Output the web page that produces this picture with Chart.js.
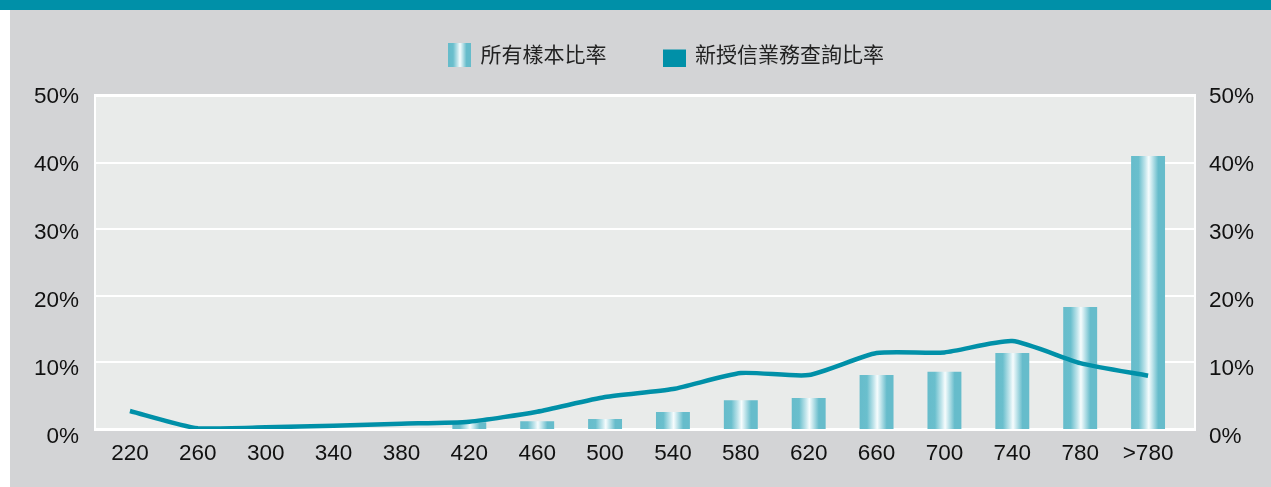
<!DOCTYPE html>
<html>
<head>
<meta charset="utf-8">
<script src="https://cdn.jsdelivr.net/npm/chart.js@4"></script>
<style>
  html, body { margin: 0; padding: 0; background: #ffffff; }
  #band { position: absolute; left: 0; top: 0; width: 1271px; height: 10px; background: #0090a8; }
  #panel { position: absolute; left: 10px; top: 10px; width: 1261px; height: 477px; background: #d3d4d6; }
  #wrap { position: absolute; left: 0; top: 0; width: 1271px; height: 487px; }
</style>
</head>
<body>
<div id="band"></div>
<div id="panel"></div>
<div id="wrap"><canvas id="chart"></canvas></div>
<script>
const categories = ["220", "260", "300", "340", "380", "420", "460", "500", "540", "580", "620", "660", "700", "740", "780", ">780"];
const sampleShare = [0, 0, 0, 0, 0, 1.0, 1.15, 1.5, 2.55, 4.3, 4.65, 8.1, 8.6, 11.4, 18.3, 41.0];
const inquiryShare = [2.7, 0.1, 0.25, 0.5, 0.8, 1.1, 2.6, 4.8, 6.0, 8.4, 8.1, 11.4, 11.5, 13.2, 9.9, 8.0];
const yTicks = [0, 10, 20, 30, 40, 50];
const seriesNames = ["所有樣本比率", "新授信業務查詢比率"];

const TEAL = "#0090a8";
const BAR_STOPS = [
  [0, "#66bccb"], [0.22, "#6abfcd"], [0.42, "#c4e6ec"],
  [0.52, "#f6fcfd"], [0.62, "#c4e6ec"], [0.8, "#66bccb"], [1, "#66bccb"]
];
const TICK_FONT = { family: "'Liberation Sans', Arial, sans-serif", size: 22.5 };
const EXTRA_RIGHT = 12; // plot panel runs a little past the last category

function barGradient(ctx, x0, x1) {
  const g = ctx.createLinearGradient(x0, 0, x1, 0);
  BAR_STOPS.forEach(s => g.addColorStop(s[0], s[1]));
  return g;
}

// legend markers
function makeMarker(kind) {
  const c = document.createElement("canvas");
  c.width = 23; c.height = 24;
  const cx = c.getContext("2d");
  if (kind === "bar") {
    cx.fillStyle = barGradient(cx, 0, 23);
    cx.fillRect(0, 0, 23, 24);
  } else {
    cx.fillStyle = TEAL;
    cx.fillRect(0, 7, 23, 17);
  }
  return c;
}
const barMarker = makeMarker("bar");
const lineMarker = makeMarker("line");

const BAR_PCT = 0.5;

// plot background, white grid and frame
const plotBg = {
  id: "plotBg",
  beforeDatasetsDraw(chart) {
    const { ctx, chartArea: a } = chart;
    const ys = chart.scales.y;
    const right = a.right + EXTRA_RIGHT;
    ctx.save();
    ctx.fillStyle = "#e9ebea";
    ctx.fillRect(a.left, a.top, right - a.left, a.bottom - a.top);
    ctx.strokeStyle = "#ffffff";
    ctx.lineWidth = 2;
    yTicks.forEach(v => {
      const y = Math.round(ys.getPixelForValue(v));
      ctx.beginPath();
      ctx.moveTo(a.left, y);
      ctx.lineTo(right, y);
      ctx.stroke();
    });
    ctx.strokeRect(a.left - 1, a.top - 1, right - a.left + 2, a.bottom - a.top + 2);
    ctx.restore();
  }
};

// legend sizing / placement
const legendBox = {
  id: "legendBox",
  beforeInit(chart) {
    const fit = chart.legend.fit;
    chart.legend.fit = function () {
      fit.bind(chart.legend)();
      this.height = 96;
    };
  },
  afterLayout(chart) {
    const lg = chart.legend;
    lg.left += 31;
    lg.right += 31;
    lg.top = -13;
  }
};

// label axes are spaced a touch wider than the grid, as in the source
const LABEL_MIN = 1.176, LABEL_MAX = 50.147;

new Chart(document.getElementById("chart"), {
  data: {
    labels: categories,
    datasets: [
      {
        type: "line",
        label: seriesNames[1],
        data: inquiryShare,
        borderColor: TEAL,
        backgroundColor: TEAL,
        borderWidth: 4.5,
        pointRadius: 0,
        tension: 0.2,
        order: 0,
        yAxisID: "y"
      },
      {
        type: "bar",
        label: seriesNames[0],
        data: sampleShare,
        categoryPercentage: 1,
        barPercentage: BAR_PCT,
        order: 1,
        yAxisID: "y",
        backgroundColor: (c) => {
          const chart = c.chart;
          const xs = chart.scales.x;
          if (!xs || !chart.chartArea || c.dataIndex === undefined) return "#66bccb";
          const cx = xs.getPixelForValue(c.dataIndex);
          const w = (xs.width / categories.length) * BAR_PCT;
          return barGradient(chart.ctx, cx - w / 2, cx + w / 2);
        }
      }
    ]
  },
  options: {
    responsive: true,
    maintainAspectRatio: false,
    animation: false,
    layout: { padding: 0 },
    plugins: {
      tooltip: { enabled: false },
      legend: {
        position: "top",
        reverse: true,
        labels: {
          usePointStyle: true,
          padding: 57,
          color: "#222222",
          font: { family: "'Noto Sans CJK TC', 'Noto Sans CJK SC', sans-serif", size: 21 },
          generateLabels(chart) {
            return chart.data.datasets.map((ds, i) => ({
              text: ds.label,
              datasetIndex: i,
              pointStyle: ds.type === "bar" ? barMarker : lineMarker,
              fillStyle: TEAL,
              strokeStyle: "transparent",
              lineWidth: 0,
              hidden: false,
              fontColor: "#222222"
            }));
          }
        }
      }
    },
    scales: {
      x: {
        grid: { display: false, drawTicks: false },
        border: { display: false },
        ticks: {
          padding: 11,
          color: "#111111",
          maxRotation: 0,
          autoSkip: false,
          font: TICK_FONT
        },
        afterFit(s) { s.height = 58; }
      },
      y: {
        position: "left",
        min: 0,
        max: 50,
        grid: { display: false, drawTicks: false },
        border: { display: false },
        ticks: { display: false },
        afterFit(s) { s.width = 0; }
      },
      yl: {
        position: "left",
        min: LABEL_MIN,
        max: LABEL_MAX,
        afterBuildTicks(s) { s.ticks = yTicks.map(v => ({ value: v })); },
        grid: { display: false, drawTicks: false },
        border: { display: false },
        ticks: {
          padding: 17,
          color: "#111111",
          callback: v => v + "%",
          font: TICK_FONT
        },
        afterFit(s) { s.width = 96; }
      },
      yr: {
        position: "right",
        min: LABEL_MIN,
        max: LABEL_MAX,
        afterBuildTicks(s) { s.ticks = yTicks.map(v => ({ value: v })); },
        grid: { display: false, drawTicks: false },
        border: { display: false },
        ticks: {
          padding: 27,
          color: "#111111",
          callback: v => v + "%",
          font: TICK_FONT
        },
        afterFit(s) { s.width = 89; }
      }
    }
  },
  plugins: [plotBg, legendBox]
});
</script>
</body>
</html>
